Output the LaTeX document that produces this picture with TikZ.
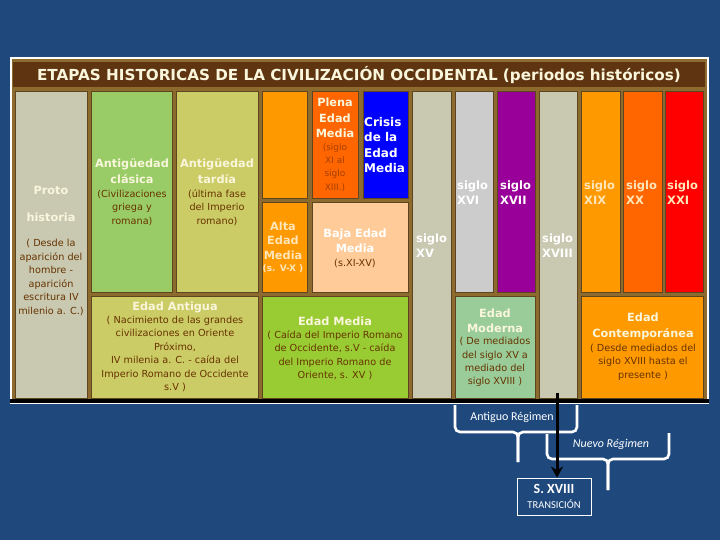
\documentclass[tikz,border=0pt]{standalone}
\usepackage{fontspec}
\setmainfont{DejaVu Sans}
\newfontfamily\calib{Carlito}
\usepackage{tikz}
\usetikzlibrary{positioning,arrows.meta}
\usepackage{xcolor}
\definecolor{fondo}{HTML}{1F497D}
\definecolor{oro}{HTML}{8D6B2E}
\definecolor{bordecel}{HTML}{5E4520}
\definecolor{barra}{HTML}{5F3410}
\definecolor{grisb}{HTML}{C9C9B1}
\definecolor{gris}{HTML}{CCCCCC}
\definecolor{verde}{HTML}{99CC66}
\definecolor{caqui}{HTML}{CCCC66}
\definecolor{naranja}{HTML}{FF9900}
\definecolor{naranjaosc}{HTML}{FF6600}
\definecolor{azul}{HTML}{0000FF}
\definecolor{salmon}{HTML}{FFCC99}
\definecolor{morado}{HTML}{990099}
\definecolor{rojo}{HTML}{FF0000}
\definecolor{lima}{HTML}{99CC33}
\definecolor{verdeagua}{HTML}{99CC99}
\definecolor{crema}{HTML}{FAF6DC}
\definecolor{cremanar}{HTML}{FFE6B8}
\definecolor{marron}{HTML}{663300}
\definecolor{teja}{HTML}{A63F00}

\begin{document}
\begin{tikzpicture}[x=1pt,y=-1pt,
  cell/.style={draw=bordecel,line width=0.6pt},
  cab/.style={font=\fontsize{11.3}{15.5}\selectfont\bfseries,text=crema,align=center,inner sep=0pt},
  nota/.style={font=\fontsize{9.7}{13.5}\selectfont,text=marron,align=center,inner sep=0pt},
  siglo/.style={font=\fontsize{11.5}{15}\selectfont\bfseries,text=white,align=left,inner sep=0pt,anchor=west},
  llave/.style={draw=white,line width=2.6pt,rounded corners=5pt},
  flecha/.style={draw=black,line width=3pt,-{Stealth[length=11pt,width=12pt]}}]
\useasboundingbox (0,0) rectangle (720,540);
\fill [fondo] (0,0) rectangle (720,540);
\fill [white] (10,57) rectangle (709,404);
\fill [oro] (12,59) rectangle (707,400);
\fill [black] (10,399) rectangle (709,403);
\fill [barra] (13,62) rectangle (705,87);
\draw [cell,fill=grisb] (15,91) rectangle (87,398);
\draw [cell,fill=verde] (91,91) rectangle (172,292);
\draw [cell,fill=caqui] (176,91) rectangle (258,292);
\draw [cell,fill=naranja] (262,91) rectangle (307,198);
\draw [cell,fill=naranjaosc] (312,91) rectangle (358,198);
\draw [cell,fill=azul] (363,91) rectangle (408,198);
\draw [cell,fill=naranja] (262,202) rectangle (307,292);
\draw [cell,fill=salmon] (312,202) rectangle (408,292);
\draw [cell,fill=grisb] (412,91) rectangle (451,398);
\draw [cell,fill=gris] (455,91) rectangle (493,292);
\draw [cell,fill=morado] (497,91) rectangle (535,292);
\draw [cell,fill=grisb] (539,91) rectangle (577,398);
\draw [cell,fill=naranja] (581,91) rectangle (620,292);
\draw [cell,fill=naranjaosc] (623,91) rectangle (662,292);
\draw [cell,fill=rojo] (665,91) rectangle (703,292);
\draw [cell,fill=caqui] (91,296) rectangle (258,398);
\draw [cell,fill=lima] (262,296) rectangle (408,398);
\draw [cell,fill=verdeagua] (455,296) rectangle (535,398);
\draw [cell,fill=naranja] (581,296) rectangle (703,398);

\node [cab,font=\fontsize{15.2}{17}\selectfont\bfseries] (titulo) at (359,75) {ETAPAS HISTORICAS DE LA CIVILIZACIÓN OCCIDENTAL (periodos históricos)};
\node [cab] (proto) at (51,190) {Proto};
\node [cab] (historia) at (51,217) {historia};
\node [nota] (protonota) at (51,277.5) {( Desde la\\aparición del\\hombre -\\aparición\\escritura IV\\milenio a. C.)};
\node [cab] (clasica) at (132,171) {Antigüedad\\clásica};
\node [nota] (clasicanota) at (132,207.5) {(Civilizaciones\\griega y\\romana)};
\node [cab] (tardia) at (217,171) {Antigüedad\\tardía};
\node [nota] (tardianota) at (217,207.5) {(última fase\\del Imperio\\romano)};
\node [cab] (plena) at (335,118) {Plena\\Edad\\Media};
\node [nota,font=\fontsize{9}{13.2}\selectfont,text=teja] (plenanota) at (335,167.5) {(siglo\\XI al\\siglo\\XIII.)};
\node [siglo,font=\fontsize{12}{15.3}\selectfont\bfseries] (crisis) at (364,145) {Crisis\\de la\\Edad\\Media};
\node [cab,text=cremanar,font=\fontsize{11.3}{14.5}\selectfont\bfseries] (alta) at (283,240.5) {Alta\\Edad\\Media};
\node [cab,text=cremanar,font=\fontsize{9}{11}\selectfont\bfseries] (altanota) at (283,269) {(s. V-X )};
\node [cab,text=white,font=\fontsize{11.3}{14.5}\selectfont\bfseries] (baja) at (355,241) {Baja Edad\\Media};
\node [nota] (bajanota) at (355,263) {(s.XI-XV)};
\node [siglo] (sxv) at (416,245.5) {siglo\\XV};
\node [siglo] (sxvi) at (457,192.5) {siglo\\XVI};
\node [siglo] (sxvii) at (500,192.5) {siglo\\XVII};
\node [siglo] (sxviii) at (542,245.5) {siglo\\XVIII};
\node [siglo,text=cremanar] (sxix) at (584,192.5) {siglo\\XIX};
\node [siglo,text=cremanar] (sxx) at (626,192.5) {siglo\\XX};
\node [siglo,text=cremanar] (sxxi) at (667,192.5) {siglo\\XXI};
\node [cab] (antigua) at (175,307) {Edad Antigua};
\node [nota] (antiguanota) at (175,354) {( Nacimiento de las grandes\\civilizaciones en Oriente\\Próximo,\\IV milenia a. C. - caída del\\Imperio Romano de Occidente\\s.V )};
\node [cab] (media) at (335,321) {Edad Media};
\node [nota] (medianota) at (335,355.5) {( Caída del Imperio Romano\\de Occidente, s.V - caída\\del Imperio Romano de\\Oriente, s. XV )};
\node [cab,font=\fontsize{11.3}{15}\selectfont\bfseries] (moderna) at (495,320.5) {Edad\\Moderna};
\node [nota,font=\fontsize{9.7}{13.3}\selectfont] (modernanota) at (495,362) {( De mediados\\del siglo XV a\\mediado del\\siglo XVIII )};
\node [cab,font=\fontsize{11.3}{16}\selectfont\bfseries] (contemp) at (643,326.5) {Edad\\Contemporánea};
\node [nota] (contempnota) at (643,362) {( Desde mediados del\\siglo XVIII hasta el\\presente )};

\draw [llave] (455,405) -- (455,432) -- (518,432) -- (518,462);
\draw [llave] (577,405) -- (577,432) -- (518,432) -- (518,462);
\draw [llave] (547,434) -- (547,459) -- (608,459) -- (608,490);
\draw [llave] (669,433) -- (669,459) -- (608,459) -- (608,490);
\node [text=white,font=\calib\fontsize{12}{14}\selectfont] (antiguoreg) at (512,417) {Antiguo Régimen};
\node [text=white,font=\calib\itshape\fontsize{12}{14}\selectfont] (nuevoreg) at (611,444) {Nuevo Régimen};
\node [draw=white,line width=0.8pt,text=white,minimum width=74pt,minimum height=37pt,inner sep=0pt,align=center,font=\calib\fontsize{14}{15}\selectfont] (trans) at (554,496.5) {\textbf{S. XVIII}\\{\fontsize{10.5}{12}\selectfont TRANSICIÓN}};
\coordinate (origen) at (557,393);
\draw [flecha] (origen) -- (origen |- trans.north);
\end{tikzpicture}
\end{document}
